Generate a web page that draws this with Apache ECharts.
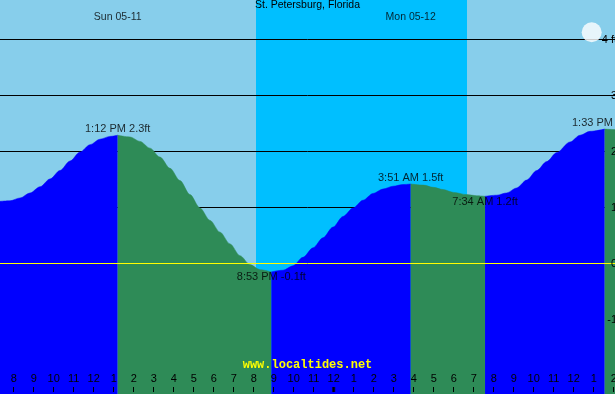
<!DOCTYPE html>
<html><head><meta charset="utf-8">
<script src="https://cdn.jsdelivr.net/npm/echarts@6/dist/echarts.min.js"></script>
<style>html,body{margin:0;padding:0;background:#87CEEB}#c{width:615px;height:394px}</style>
</head><body><div id="c"></div>
<script>
// time in hours from Sun 05-11 00:00, height in feet
const tideHours = [7.315,7.815,8.315,8.815,9.315,9.815,10.315,10.815,11.315,11.815,12.315,12.815,13.2,
  13.815,14.315,14.815,15.315,15.815,16.315,16.815,17.315,17.815,18.315,18.815,19.315,19.815,20.315,20.883,
  21.465,21.965,22.465,22.965,23.465,23.965,24.465,24.965,25.465,25.965,26.465,26.965,27.465,27.85,
  28.48,28.98,29.48,29.98,30.65,31.15,31.567,
  32.15,32.65,33.15,33.65,34.15,34.65,35.15,35.815,36.315,36.815,37.55,38.065];
const tideFeet = [1.11,1.12,1.17,1.26,1.37,1.51,1.66,1.83,1.99,2.12,2.22,2.27,2.29,
  2.26,2.18,2.06,1.90,1.70,1.48,1.23,0.99,0.77,0.56,0.35,0.14,-0.02,-0.11,-0.15,
  -0.12,-0.04,0.11,0.28,0.46,0.65,0.84,0.99,1.13,1.25,1.33,1.38,1.41,1.42,
  1.40,1.36,1.32,1.27,1.23,1.21,1.20,
  1.22,1.26,1.35,1.49,1.66,1.82,1.98,2.17,2.29,2.36,2.40,2.39];
const eventHours = [13.2, 20.883, 27.85, 31.567, 37.55];
const eventTexts = ['1:12 PM 2.3ft','8:53 PM -0.1ft','3:51 AM 1.5ft','7:34 AM 1.2ft','1:33 PM 2.4ft'];
const eventKinds = ['high','low','high','low','high'];
const nightHours = [20.115, 30.665];
const dayLabelHours = [13.2, 27.85];
const dayLabels = ['Sun 05-11','Mon 05-12'];
const dayLabelFeet = 4.40;
const hourTicks = [8,9,10,11,12,13,14,15,16,17,18,19,20,21,22,23,24,25,26,27,28,29,30,31,32,33,34,35,36,37,38];
const hourLabels = ['8','9','10','11','12','1','2','3','4','5','6','7','8','9','10','11','12','1','2','3','4','5','6','7','8','9','10','11','12','1','2'];
const midnightHours = [24];
const footTicks = [-1,0,1,2,3,4];
const footLabels = ['-1','0','1','2','3','4 ft'];
const gridFeet = [1,2,3,4];
const moonPos = [36.9, 4.13];

const BLUE = '#0000FF', GREEN = '#2E8B57', SKY = '#87CEEB', NIGHT = '#00BFFF';
const tMin = tideHours[0], tMax = tideHours[tideHours.length - 1];
const yMin = (263.5 - 394) / 56, yMax = 263.5 / 56;
const FONT = 'Liberation Sans';

const bounds = [tMin].concat(eventHours, [tMax]);
const series = [];
// night band
series.push({type:'line', data:[], z:1, silent:true,
  markArea:{silent:true, itemStyle:{color:NIGHT}, data:[[{xAxis:nightHours[0]},{xAxis:nightHours[1]}]]}});
// grid lines
gridFeet.forEach(v => series.push({type:'line', z:2, silent:true, symbol:'none',
  lineStyle:{color:'#000', width:1}, data:[[tMin, v],[tMax, v]]}));
// tide segments
for (let i = 0; i < bounds.length - 1; i++) {
  const pts = [];
  tideHours.forEach((t, k) => { if (t >= bounds[i] - 1e-6 && t <= bounds[i+1] + 1e-6) pts.push([t, tideFeet[k]]); });
  if (pts.length < 2) continue;
  const col = pts[pts.length-1][1] > pts[0][1] ? BLUE : GREEN;
  series.push({type:'line', z:3, silent:true, symbol:'none', smooth:0.3, smoothMonotone:'x',
    lineStyle:{width:0.5, color:col}, areaStyle:{color:col, opacity:1, origin:'start'}, data:pts});
}
// zero line
series.push({type:'line', z:4, silent:true, symbol:'none', lineStyle:{color:'#FFFF00', width:1}, data:[[tMin,0],[tMax,0]]});
// event labels
const heightAt = t => tideFeet[tideHours.findIndex(x => Math.abs(x - t) < 1e-6)];
series.push({type:'scatter', z:6, silent:true, symbolSize:0,
  data: eventHours.map((t, i) => ({value:[t, heightAt(t)], label:{
    position: eventKinds[i] === 'high' ? 'top' : 'bottom', distance: eventKinds[i] === 'high' ? 1 : 0,
    formatter: eventTexts[i]}})),
  label:{show:true, color:'#000', fontSize:11, fontFamily:FONT}});
// day labels
series.push({type:'scatter', z:6, silent:true, symbolSize:0,
  data: dayLabelHours.map((t, i) => ({value:[t, dayLabelFeet], label:{formatter: dayLabels[i]}})),
  label:{show:true, position:'inside', color:'#000', fontSize:10.5, fontFamily:FONT}});
// midnight thick tick
series.push({type:'scatter', z:7, silent:true, symbol:'rect', symbolSize:[3,5], itemStyle:{color:'#000'},
  data: midnightHours.map(t => [t, (263.5 - 389.5) / 56])});
// moon
series.push({type:'scatter', z:7, silent:true, symbol:'circle', symbolSize:20, itemStyle:{color:'#FFFFFF'},
  data:[moonPos]});

const chart = echarts.init(document.getElementById('c'), null, {renderer:'canvas'});
chart.setOption({
  animation:false,
  backgroundColor: SKY,
  title:[
    {text:'St. Petersburg, Florida', left:'center', top:0, padding:0,
      textStyle:{fontSize:10.5, fontWeight:'normal', color:'#000', fontFamily:FONT}},
    {text:'www.localtides.net', left:'center', top:359, padding:0,
      textStyle:{fontSize:12, fontWeight:'bold', color:'#FFFF00', fontFamily:'Liberation Mono'}}
  ],
  grid:{left:0, right:0, top:0, bottom:0, containLabel:false, outerBoundsMode:'none'},
  xAxis:{type:'value', min:tMin, max:tMax, z:10, offset:-2, position:'bottom',
    axisLine:{show:false, onZero:false}, splitLine:{show:false},
    axisTick:{show:true, inside:true, length:5, lineStyle:{color:'#000', width:1}, customValues:hourTicks},
    axisLabel:{show:true, inside:true, margin:8, customValues:hourTicks, color:'#000', fontSize:11, fontFamily:FONT,
      formatter: v => hourLabels[hourTicks.indexOf(Math.round(v))]}},
  yAxis:{type:'value', min:yMin, max:yMax, position:'right', z:10,
    axisLine:{show:false, onZero:false}, splitLine:{show:false}, axisTick:{show:false},
    axisLabel:{show:true, inside:true, margin:-2, customValues:footTicks, color:'#000', fontSize:11, fontFamily:FONT,
      formatter: v => footLabels[footTicks.indexOf(Math.round(v))]}},
  series: series
});
</script></body></html>
